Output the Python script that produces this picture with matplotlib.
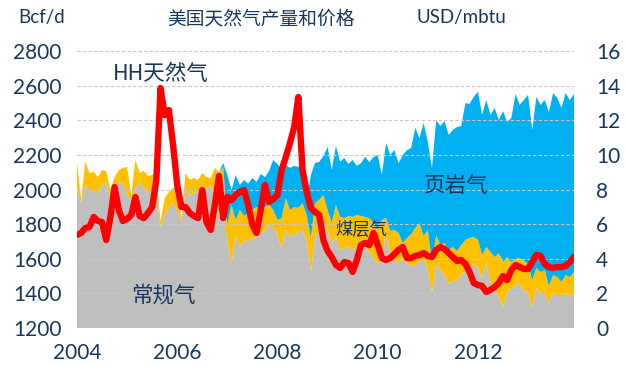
import numpy as np
import matplotlib
matplotlib.use("Agg")
import matplotlib.pyplot as plt

# ---------------- data (monthly, Jan 2004 - Dec 2013) ----------------
start_year = 2004
conventional = [2015, 1922, 2026, 1997, 1986, 1980, 2026, 2038, 1957, 2026,
                2032, 2038, 1968, 1939, 2009, 2038, 2009, 1986, 1980, 1997,
                1778, 1853, 1893, 1922, 1882, 1812, 1997, 1968, 1980, 1986,
                1997, 2009, 2026, 1951, 1853, 1870, 1708, 1575, 1737, 1668,
                1708, 1697, 1720, 1726, 1743, 1766, 1801, 1778, 1737, 1662,
                1766, 1726, 1737, 1755, 1766, 1708, 1524, 1726, 1749, 1812,
                1766, 1691, 1726, 1651, 1662, 1668, 1651, 1668, 1691, 1668,
                1639, 1604, 1575, 1593, 1755, 1622, 1593, 1575, 1604, 1575,
                1558, 1564, 1581, 1604, 1535, 1402, 1575, 1535, 1500, 1460,
                1466, 1477, 1506, 1529, 1552, 1570, 1547, 1489, 1581, 1460,
                1425, 1379, 1321, 1408, 1431, 1443, 1454, 1420, 1402, 1316,
                1431, 1402, 1402, 1344, 1402, 1385, 1385, 1402, 1379, 1402]

coalbed = [144, 17, 133, 98, 116, 92, 87, 69, 40, 46,
           81, 87, 162, 29, 162, 58, 98, 92, 104, 98,
           35, 98, 92, 87, 133, 23, 98, 87, 87, 69,
           98, 64, 40, 173, 248, 260, 87, 335, 87, 214,
           139, 168, 162, 173, 133, 133, 110, 104, 87, 173,
           185, 156, 162, 139, 156, 144, 196, 196, 191, 156,
           116, 116, 185, 191, 173, 179, 191, 185, 156, 173,
           196, 202, 191, 231, 81, 139, 173, 173, 87, 144,
           185, 214, 225, 127, 231, 173, 162, 144, 191, 191,
           202, 168, 173, 179, 168, 156, 162, 133, 87, 179,
           185, 254, 260, 202, 150, 156, 150, 168, 168, 162,
           116, 121, 133, 98, 104, 110, 81, 104, 116, 121]

shale = [0] * 35 + [
    23, 289, 87, 260, 144, 208, 168, 185, 144, 214,
    173, 196, 289, 323, 283, 191, 243, 237, 237, 219,
    87, 364, 231, 219, 225, 364, 306, 341, 318, 347,
    300, 329, 283, 306, 347, 323, 381, 433, 260, 433,
    439, 462, 404, 508, 508, 497, 578, 491, 653, 508,
    549, 664, 687, 705, 664, 676, 716, 687, 791, 774,
    809, 855, 809, 849, 791, 861, 768, 872, 780, 832,
    953, 884, 930, 976, 866, 988, 965, 982, 1005, 1051,
    1034, 1005, 1051, 1022, 1028]

hh_price = [5.37, 5.49, 5.78, 5.84, 6.41, 6.18, 6.12, 5.08, 6.41, 8.14,
            6.82, 6.18, 6.30, 6.53, 7.57, 6.47, 6.35, 6.64, 6.99, 8.55,
            13.86, 12.30, 12.59, 10.57, 8.26, 6.99, 6.99, 6.64, 6.47, 6.35,
            7.97, 6.12, 5.66, 7.10, 8.78, 6.35, 7.57, 7.39, 7.68, 7.86,
            7.97, 7.10, 5.95, 5.49, 6.82, 8.26, 7.28, 7.45, 7.68, 9.13,
            9.88, 10.69, 11.61, 13.34, 9.13, 7.86, 6.93, 6.70, 6.53, 5.08,
            4.45, 4.10, 3.64, 3.47, 3.81, 3.75, 3.24, 3.93, 4.79, 4.91,
            4.79, 5.49, 4.79, 4.04, 3.93, 4.04, 4.27, 4.51, 4.68, 4.04,
            4.04, 4.16, 4.22, 4.33, 4.16, 4.10, 4.51, 4.68, 4.56, 4.33,
            4.10, 3.87, 3.93, 3.70, 3.24, 2.60, 2.48, 2.43, 2.08, 2.20,
            2.37, 2.60, 3.00, 2.77, 3.35, 3.64, 3.52, 3.41, 3.41, 3.81,
            4.22, 4.16, 3.70, 3.52, 3.47, 3.52, 3.52, 3.58, 3.81, 4.10]

year_ticks = [2004, 2006, 2008, 2010, 2012]
left_ticks = [1200, 1400, 1600, 1800, 2000, 2200, 2400, 2600, 2800]
right_ticks = [0, 2, 4, 6, 8, 10, 12, 14, 16]

title = "美国天然气产量和价格"
left_unit = "Bcf/d"
right_unit = "USD/mbtu"
series_labels = ["常规气", "煤层气", "页岩气", "HH天然气"]

# ---------------- style ----------------
navy = "#17375E"
c_gray = "#BFBFBF"
c_orange = "#FFC000"
c_blue = "#00B0F0"
c_red = "#FF0000"
num_font = ["Lato", "DejaVu Sans"]
cjk_font = ["Noto Sans CJK SC", "DejaVu Sans"]

plt.rcParams["font.family"] = cjk_font

t = start_year + np.arange(len(conventional)) / 12.0

fig = plt.figure(figsize=(6.27, 3.66), dpi=100)
ax = fig.add_axes([77 / 627, 1 - 328 / 366, (574 - 77) / 627, (328 - 51) / 366])

ax.stackplot(t, conventional, coalbed, shale,
             colors=[c_gray, c_orange, c_blue], linewidth=0)
ax.set_xlim(t[0], t[-1])
ax.set_ylim(1200, 2800)
ax.set_yticks(left_ticks)
ax.set_xticks(year_ticks)
ax.set_xticklabels([str(y) for y in year_ticks])
ax.grid(axis="y", color="#C8C8C8", linestyle=(0, (3, 2)), linewidth=0.8)
ax.set_axisbelow(False)
for s in ax.spines.values():
    s.set_visible(False)
ax.tick_params(axis="both", length=0, colors=navy, labelsize=15)
ax.tick_params(axis="y", pad=11)
ax.tick_params(axis="x", pad=11)
for lab in ax.get_yticklabels() + ax.get_xticklabels():
    lab.set_family(num_font)

ax2 = ax.twinx()
ax2.plot(t, hh_price, color=c_red, linewidth=4.6, solid_joinstyle="round",
         solid_capstyle="round")
ax2.set_ylim(0, 16)
ax2.set_yticks(right_ticks)
for s in ax2.spines.values():
    s.set_visible(False)
ax2.tick_params(axis="y", length=0, colors=navy, labelsize=15, pad=16)
for lab in ax2.get_yticklabels():
    lab.set_family(num_font)

# titles / units
fig.text(261 / 627, 1 - 19 / 366, title, ha="center", va="center",
         fontsize=13.5, color=navy, family=cjk_font)
fig.text(18 / 627, 1 - 18 / 366, left_unit, ha="left", va="center",
         fontsize=13.5, color=navy, family=num_font)
fig.text(506 / 627, 1 - 18 / 366, right_unit, ha="right", va="center",
         fontsize=13.5, color=navy, family=num_font)

# in-chart labels (positioned in axes fraction)
def afrac(px, py):
    return ((px - 77) / (574 - 77), (328 - py) / (328 - 51))

ax2.text(*afrac(163, 296), series_labels[0], transform=ax2.transAxes,
         ha="center", va="center", fontsize=15.5, color=navy, zorder=10)
ax2.text(*afrac(361, 229), series_labels[1], transform=ax2.transAxes,
         ha="center", va="center", fontsize=12.5, color=navy, zorder=10)
ax2.text(*afrac(456, 186), series_labels[2], transform=ax2.transAxes,
         ha="center", va="center", fontsize=15.5, color=navy, zorder=10)
ax2.text(*afrac(161, 74), series_labels[3], transform=ax2.transAxes,
         ha="center", va="center", fontsize=15.5, color=navy, zorder=10)

fig.savefig("out.png", dpi=100)
